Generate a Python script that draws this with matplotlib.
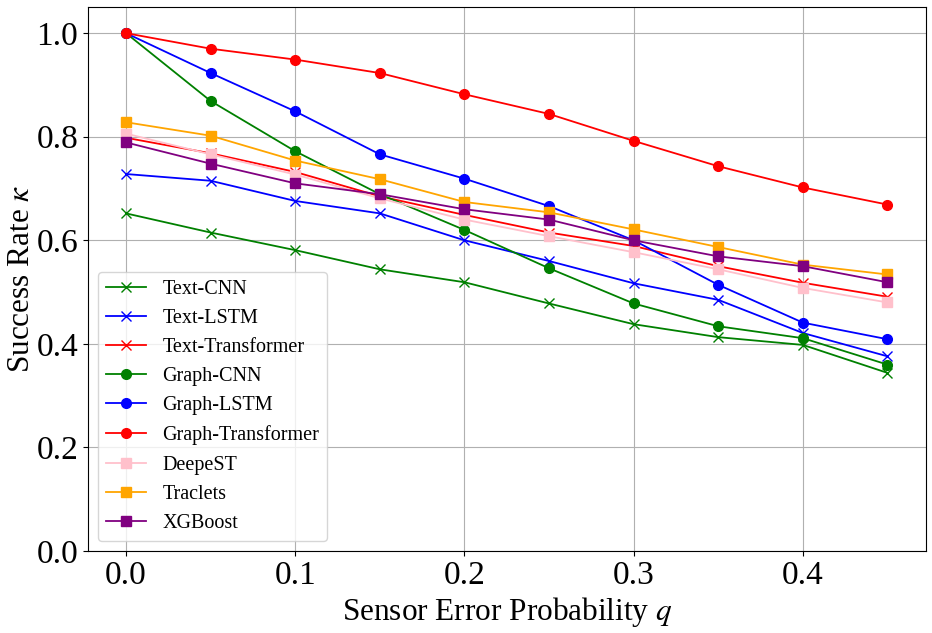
import matplotlib
matplotlib.use("Agg")
import matplotlib.pyplot as plt
import numpy as np

plt.rcParams['font.family'] = ['Liberation Serif', 'DejaVu Serif']
plt.rcParams['mathtext.fontset'] = 'stix'

q = [0.0, 0.05, 0.1, 0.15, 0.2, 0.25, 0.3, 0.35, 0.4, 0.45]

text_cnn = [0.652, 0.615, 0.581, 0.544, 0.519, 0.478, 0.438, 0.413, 0.398, 0.344]
text_lstm = [0.728, 0.715, 0.676, 0.652, 0.600, 0.560, 0.517, 0.485, 0.421, 0.376]
text_transformer = [0.798, 0.768, 0.732, 0.685, 0.649, 0.615, 0.589, 0.550, 0.518, 0.491]
graph_cnn = [1.0, 0.869, 0.772, 0.689, 0.620, 0.546, 0.478, 0.434, 0.411, 0.360]
graph_lstm = [1.0, 0.923, 0.849, 0.766, 0.719, 0.666, 0.600, 0.514, 0.441, 0.409]
graph_transformer = [1.0, 0.970, 0.949, 0.923, 0.882, 0.844, 0.792, 0.743, 0.702, 0.669]
deepest = [0.806, 0.766, 0.727, 0.681, 0.640, 0.608, 0.577, 0.544, 0.508, 0.480]
traclets = [0.828, 0.802, 0.754, 0.718, 0.674, 0.654, 0.621, 0.587, 0.553, 0.534]
xgboost = [0.789, 0.748, 0.710, 0.689, 0.660, 0.640, 0.600, 0.569, 0.550, 0.519]

series = [
    ("Text-CNN", text_cnn, "green", "x"),
    ("Text-LSTM", text_lstm, "blue", "x"),
    ("Text-Transformer", text_transformer, "red", "x"),
    ("Graph-CNN", graph_cnn, "green", "o"),
    ("Graph-LSTM", graph_lstm, "blue", "o"),
    ("Graph-Transformer", graph_transformer, "red", "o"),
    ("DeepeST", deepest, "pink", "s"),
    ("Traclets", traclets, "orange", "s"),
    ("XGBoost", xgboost, "purple", "s"),
]

fig = plt.figure(figsize=(9.32, 6.33), dpi=100)
ax = fig.add_axes([0.0944, 0.1295, 0.8987, 0.859])

for name, vals, color, marker in series:
    ax.plot(q, vals, color=color, marker=marker, markersize=7, linewidth=1.3, label=name)

ax.set_ylim(0, 1.05)
ax.set_xticks([0.0, 0.1, 0.2, 0.3, 0.4])
ax.set_yticks([0.0, 0.2, 0.4, 0.6, 0.8, 1.0])
ax.tick_params(labelsize=24)
ax.grid(True, color='#b0b0b0', linewidth=0.8)
ax.set_xlabel(r"Sensor Error Probability $q$", fontsize=22.5, labelpad=3)
ax.set_ylabel(r"Success Rate $\kappa$", fontsize=22.5, labelpad=0)
ax.legend(loc='lower left', fontsize=14.5)

fig.savefig("out.png", dpi=100)
